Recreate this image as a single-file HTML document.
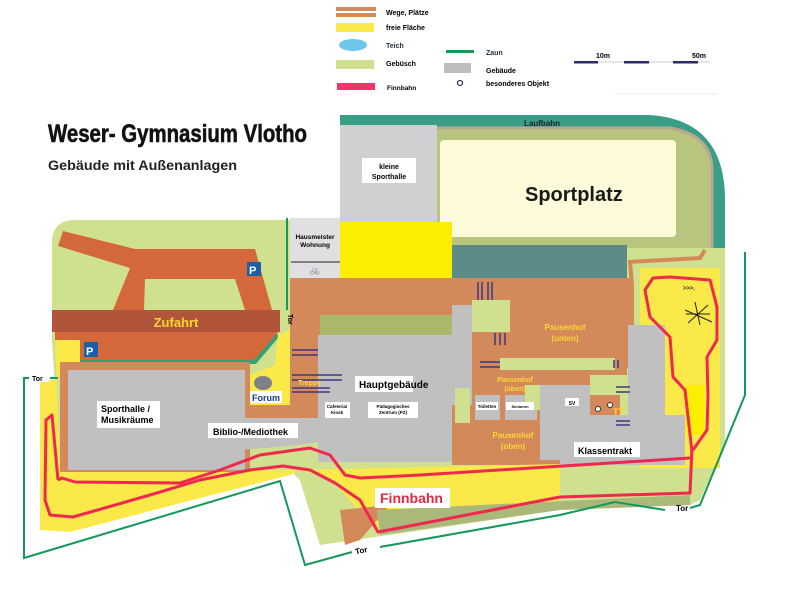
<!DOCTYPE html>
<html><head><meta charset="utf-8"><style>
html,body{margin:0;padding:0;background:#fff;width:800px;height:598px;overflow:hidden}
svg{display:block}
text{font-family:"Liberation Sans",sans-serif;font-weight:bold}
</style></head><body>
<svg width="800" height="598" viewBox="0 0 800 598" xmlns="http://www.w3.org/2000/svg">
<!-- legend -->
<rect x="336" y="7" width="40" height="4" fill="#d4895a"/><rect x="336" y="13" width="40" height="4" fill="#d4895a"/>
<text x="386" y="15" font-size="7" font-weight="normal">Wege, Plätze</text>
<rect x="336" y="23" width="38" height="9" fill="#fbe94a"/>
<text x="386" y="30" font-size="7" font-weight="normal">freie Fläche</text>
<ellipse cx="353" cy="45" rx="14" ry="6" fill="#6ec6ec"/>
<text x="386" y="48" font-size="7" font-weight="normal" fill="#234">Teich</text>
<rect x="336" y="60" width="38" height="9" fill="#cfe08f"/>
<text x="386" y="66" font-size="7" font-weight="normal">Gebüsch</text>
<rect x="337" y="83" width="38" height="7" fill="#f5326a"/>
<text x="387" y="90" font-size="6.5">Finnbahn</text>
<rect x="446" y="50" width="28" height="3" fill="#15985a"/>
<text x="486" y="55" font-size="7" font-weight="normal" fill="#234">Zaun</text>
<rect x="444" y="63" width="27" height="10" fill="#bdbdbd"/>
<text x="486" y="73" font-size="7" font-weight="normal">Gebäude</text>
<circle cx="460" cy="83" r="2.5" fill="none" stroke="#335" stroke-width="1.2"/>
<text x="486" y="86" font-size="7" font-weight="normal">besonderes Objekt</text>
<line x1="574" y1="62" x2="710" y2="62" stroke="#ccc" stroke-width="1"/>
<g fill="#2a2a6e"><rect x="574" y="61" width="24" height="2.5"/><rect x="624" y="61" width="25" height="2.5"/><rect x="673" y="61" width="25" height="2.5"/></g>
<text x="596" y="58" font-size="7" font-weight="normal">10m</text>
<text x="692" y="58" font-size="7" font-weight="normal">50m</text>
<line x1="615" y1="94" x2="718" y2="94" stroke="#eee"/>
<!-- title -->
<text x="48" y="142" font-size="25" textLength="259" lengthAdjust="spacingAndGlyphs" fill="#111" stroke="#111" stroke-width="0.6">Weser- Gymnasium Vlotho</text>
<text x="48" y="170" font-size="14" textLength="189" lengthAdjust="spacingAndGlyphs" fill="#222">Gebäude mit Außenanlagen</text>

<!-- sports area -->
<path d="M340 115 L650 115 Q725 120 725 200 L725 250 L340 250 Z" fill="#3a9e86"/>
<path d="M437 128 L670 128 Q712 135 712 170 L712 250 L437 250 Z" fill="#b9c47f"/>
<path d="M437 128 L670 128 Q712 135 712 170 L712 250" fill="none" stroke="#b8a890" stroke-width="3"/>
<rect x="440" y="140" width="236" height="97" rx="4" fill="#fdfbd9"/>
<text x="525" y="201" font-size="20" fill="#1a1a1a">Sportplatz</text>
<text x="524" y="126" font-size="8" fill="#223">Laufbahn</text>
<rect x="340" y="125" width="97" height="97" fill="#cfd0d2"/>
<rect x="362" y="158" width="54" height="25" fill="#fff"/>
<text x="389" y="169" font-size="7" text-anchor="middle">kleine</text>
<text x="389" y="179" font-size="7" text-anchor="middle">Sporthalle</text>
<rect x="340" y="222" width="112" height="58" fill="#fcee00"/>
<rect x="452" y="245" width="175" height="35" fill="#5b8c8a"/>
<rect x="290" y="218" width="50" height="60" fill="#e0e0e2"/>
<line x1="291" y1="262" x2="340" y2="262" stroke="#222" stroke-width="1"/>
<text x="315" y="239" font-size="6.5" text-anchor="middle">Hausmeister</text>
<text x="315" y="247" font-size="6.5" text-anchor="middle">Wohnung</text>
<text x="315" y="273" font-size="9" text-anchor="middle" font-weight="normal">🚲</text>

<!-- campus base green -->
<path d="M75 220 L290 220 L290 278 L627 278 L627 248 L725 248 L725 445 L700 500 L690 505 L560 510 L320 545 L300 480 L290 470 L60 470 L52 340 L52 243 Q52 220 75 220 Z" fill="#cfe08f"/>
<!-- right yellow -->
<rect x="640" y="268" width="80" height="200" fill="#fbe94a"/>
<rect x="686" y="385" width="18" height="50" fill="#fcee00"/>
<path d="M630 262 L632 285 L632 330" stroke="#d4895a" stroke-width="4" fill="none"/>
<path d="M628 262 L700 258 L705 250" stroke="#d4895a" stroke-width="4" fill="none"/>
<!-- orange road (Zufahrt area) -->
<path d="M63 231 L135 249 L255 249 L272 310 L245 310 L235 279 L145 279 L144 310 L113 310 L130 268 L58 246 Z" fill="#d4683a"/>
<rect x="52" y="310" width="228" height="22" fill="#b0553a"/>
<text x="176" y="327" font-size="13" fill="#fcd734" text-anchor="middle">Zufahrt</text>
<path d="M55 332 L278 332 L255 362 L78 362 L70 345 L55 345 Z" fill="#d4683a"/>
<path d="M78 362 L255 362 L278 335" stroke="#3a9e70" stroke-width="4" fill="none"/>
<rect x="247" y="262" width="14" height="14" fill="#1a5fa8"/><text x="249" y="274" font-size="11" fill="#fff">P</text>
<rect x="84" y="342" width="14" height="15" fill="#1a5fa8"/><text x="86" y="355" font-size="11" fill="#fff">P</text>
<!-- left yellow -->
<path d="M55 340 L80 340 L80 362 L60 370 L58 380 L40 380 L40 530 L70 532 L200 498 L290 475 L300 470 L60 470 Z" fill="#fbe94a"/>
<path d="M250 375 L275 365 L278 335 L290 330 L290 420 L250 420 Z" fill="#fbe94a"/>
<!-- brown paths -->
<rect x="290" y="278" width="340" height="90" fill="#d4895a"/>
<rect x="60" y="362" width="190" height="110" fill="#d4895a"/>
<rect x="290" y="335" width="60" height="85" fill="#d4895a"/>
<rect x="205" y="405" width="125" height="13" fill="#d4895a"/>
<rect x="452" y="360" width="175" height="105" fill="#d4895a"/>
<!-- olive band -->
<rect x="320" y="315" width="132" height="20" fill="#a9b86a"/>
<!-- buildings gray -->
<rect x="68" y="370" width="177" height="100" fill="#c0c0c0"/>
<path d="M200 418 L330 418 L330 440 L300 445 L240 450 L195 470 L68 470 L68 440 L200 440 Z" fill="#c0c0c0"/>
<rect x="318" y="335" width="134" height="127" fill="#c0c0c0"/>
<rect x="452" y="305" width="20" height="100" fill="#c0c0c0"/>
<rect x="472" y="300" width="38" height="32" fill="#cfe08f"/>
<rect x="500" y="358" width="115" height="12" fill="#cfe08f"/>
<rect x="472" y="365" width="18" height="22" fill="#d4895a"/>
<rect x="475" y="395" width="25" height="25" fill="#c0c0c0"/>
<rect x="505" y="395" width="32" height="25" fill="#c0c0c0"/>
<rect x="525" y="385" width="20" height="25" fill="#cfe08f"/>
<rect x="455" y="388" width="15" height="35" fill="#cfe08f"/>
<rect x="540" y="385" width="50" height="55" fill="#c0c0c0"/>
<rect x="590" y="375" width="40" height="50" fill="#cfe08f"/>
<rect x="590" y="395" width="30" height="25" fill="#d4895a"/>
<rect x="628" y="325" width="37" height="135" fill="#c0c0c0"/>
<rect x="540" y="415" width="145" height="45" fill="#c0c0c0"/>
<rect x="560" y="460" width="125" height="5" fill="#c0c0c0"/>
<!-- stairs -->
<g stroke="#3a3880" stroke-width="1.5">
<line x1="292" y1="350" x2="318" y2="350"/><line x1="292" y1="355" x2="318" y2="355"/>
<line x1="292" y1="375" x2="342" y2="375"/><line x1="292" y1="380" x2="342" y2="380"/>
<line x1="292" y1="388" x2="330" y2="388"/><line x1="292" y1="392" x2="330" y2="392"/>
<line x1="478" y1="282" x2="478" y2="300"/><line x1="482" y1="282" x2="482" y2="300"/><line x1="488" y1="282" x2="488" y2="300"/><line x1="492" y1="282" x2="492" y2="300"/>
<line x1="495" y1="333" x2="495" y2="345"/><line x1="500" y1="333" x2="500" y2="345"/><line x1="505" y1="333" x2="505" y2="345"/>
<line x1="480" y1="362" x2="500" y2="362"/><line x1="480" y1="367" x2="500" y2="367"/>
<line x1="614" y1="360" x2="614" y2="368"/><line x1="618" y1="360" x2="618" y2="368"/>
<line x1="616" y1="387" x2="630" y2="387"/><line x1="616" y1="392" x2="630" y2="392"/>
<line x1="616" y1="421" x2="630" y2="421"/><line x1="616" y1="425" x2="630" y2="425"/>
</g>
<ellipse cx="263" cy="383" rx="9" ry="7" fill="#808088"/>
<!-- labels -->
<rect x="97" y="401" width="63" height="27" fill="#fff"/>
<text x="101" y="412" font-size="9">Sporthalle /</text><text x="101" y="423" font-size="9">Musikräume</text>
<rect x="250" y="391" width="32" height="12" fill="#fff"/><text x="252" y="401" font-size="9" fill="#1a3a88">Forum</text>
<rect x="208" y="423" width="90" height="15" fill="#fff"/><text x="213" y="435" font-size="9">Biblio-/Mediothek</text>
<text x="298" y="385" font-size="7" fill="#fcd734">Treppe</text>
<rect x="355" y="376" width="58" height="16" fill="#fff"/><text x="359" y="388" font-size="10">Hauptgebäude</text>
<rect x="325" y="402" width="25" height="16" fill="#fff"/><text x="337" y="408" font-size="4.5" text-anchor="middle">Cafeteria/</text><text x="337" y="414" font-size="4.5" text-anchor="middle">Kiosk</text>
<rect x="368" y="402" width="50" height="16" fill="#fff"/><text x="393" y="408" font-size="4.5" text-anchor="middle">Pädagogisches</text><text x="393" y="414" font-size="4.5" text-anchor="middle">Zentrum (PZ)</text>
<text x="565" y="330" font-size="8" fill="#fcd734" text-anchor="middle">Pausenhof</text><text x="565" y="341" font-size="8" fill="#fcd734" text-anchor="middle">(unten)</text>
<text x="515" y="382" font-size="7" fill="#fcd734" text-anchor="middle">Pausenhof</text><text x="515" y="391" font-size="7" fill="#fcd734" text-anchor="middle">(oben)</text>
<text x="513" y="438" font-size="8" fill="#fcd734" text-anchor="middle">Pausenhof</text><text x="513" y="449" font-size="8" fill="#fcd734" text-anchor="middle">(oben)</text>
<rect x="476" y="402" width="22" height="8" fill="#fff"/><text x="487" y="408" font-size="4.5" text-anchor="middle">Toiletten</text>
<rect x="506" y="402" width="28" height="8" fill="#fff"/><text x="520" y="408" font-size="4" text-anchor="middle">Senioren</text>
<rect x="565" y="398" width="14" height="8" fill="#fff"/><text x="572" y="405" font-size="5" text-anchor="middle">SV</text>
<circle cx="598" cy="409" r="2.5" fill="#fff" stroke="#333"/><circle cx="610" cy="405" r="2.5" fill="#fff" stroke="#333"/>
<text x="613" y="415" font-size="9" fill="#fcd734">TT</text>
<rect x="574" y="442" width="66" height="15" fill="#fff"/><text x="578" y="454" font-size="9">Klassentrakt</text>
<text x="683" y="290" font-size="6" fill="#333">>>>.</text>
<g stroke="#222" stroke-width="1"><line x1="685" y1="310" x2="712" y2="322"/><line x1="688" y1="323" x2="708" y2="305"/><line x1="695" y1="302" x2="700" y2="325"/><line x1="686" y1="314" x2="710" y2="314"/></g>
<!-- bottom bits -->
<path d="M300 470 L560 464 L560 500 L378 530 L345 495 L330 478 Z" fill="#fbe94a"/>
<path d="M300 480 L330 478 L345 520 L320 545 Z" fill="#cfe08f"/>
<path d="M340 510 L390 505 L360 540 L345 545 Z" fill="#d4895a"/>
<path d="M377 510 L690 495 L690 505 L560 510 L380 535 Z" fill="#aab97a"/>
<!-- Finnbahn -->
<g fill="none" stroke="#f0284f" stroke-width="3" stroke-linejoin="round">
<path d="M58 480 L52 415 L46 420 L45 500 L50 515 L73 517 L150 495 L200 480 L250 470 L283 466 L310 470 L335 483 L360 500 L378 532 L560 497 L690 493 L692 448"/>
<path d="M58 480 L62 478 L75 482 L180 483 L220 470 L260 455 L310 448 L330 455 L345 475 L360 478 L420 475 L690 458"/>
<path d="M692 452 L685 390 L673 377 L670 337 L650 317 L645 290 L653 278 L670 277 L710 280 L717 307 L717 340 L707 357 L708 397 L707 430 L693 450"/>
</g>
<rect x="375" y="488" width="75" height="20" fill="#fff"/>
<text x="380" y="503" font-size="14" fill="#e6283f">Finnbahn</text>
<!-- fences -->
<g fill="none" stroke="#15985a" stroke-width="2">
<line x1="287" y1="218" x2="287" y2="310"/>
<path d="M29 378 L24 378 L24 558 L280 481 L305 565 L352 552"/>
<path d="M380 547 L560 515 L615 502 L665 510"/>
<path d="M690 508 L700 505 L745 395 L745 252"/>
<line x1="50" y1="378" x2="58" y2="378"/>
</g>
<rect x="30" y="373" width="19" height="9" fill="#fff"/>
<text x="32" y="381" font-size="7">Tor</text>
<text x="355" y="553" font-size="8" transform="rotate(-12 362 550)">Tor</text>
<text x="676" y="511" font-size="8">Tor</text>
<text x="284" y="318" font-size="7" transform="rotate(90 288 318)">Tor</text>
</svg>
</body></html>
